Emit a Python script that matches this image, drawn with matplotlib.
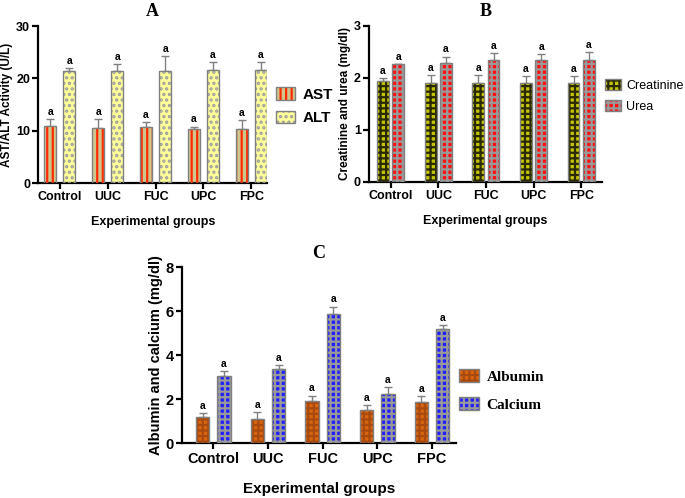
import numpy as np
import matplotlib
matplotlib.use('Agg')
import matplotlib.pyplot as plt
from matplotlib.patches import Patch
from matplotlib.legend_handler import HandlerTuple

plt.rcParams['font.family'] = 'Liberation Sans'
plt.rcParams['hatch.linewidth'] = 1.6

groups = ['Control', 'UUC', 'FUC', 'UPC', 'FPC']

# Panel A
ast = [10.9, 10.5, 10.8, 10.3, 10.4]
ast_err = [1.4, 1.7, 0.9, 0.5, 1.6]
alt = [21.4, 21.5, 21.5, 21.7, 21.6]
alt_err = [0.6, 1.3, 2.8, 1.5, 1.6]

# Panel B
creat = [1.94, 1.90, 1.90, 1.91, 1.91]
creat_err = [0.05, 0.15, 0.15, 0.12, 0.12]
urea = [2.26, 2.29, 2.35, 2.34, 2.35]
urea_err = [0.01, 0.12, 0.13, 0.12, 0.14]

# Panel C
albumin = [1.19, 1.10, 1.93, 1.52, 1.89]
albumin_err = [0.20, 0.33, 0.24, 0.20, 0.25]
calcium = [3.08, 3.37, 5.90, 2.26, 5.18]
calcium_err = [0.20, 0.19, 0.32, 0.31, 0.21]

fig = plt.figure(figsize=(6.85, 4.98), dpi=100)


def hatched_bars(ax, x, vals, err, face, hcol, hatch, width):
    ax.bar(x, vals, width, color=face, edgecolor='none', zorder=2)
    ax.bar(x, vals, width, fill=False, edgecolor=hcol, hatch=hatch, linewidth=0, zorder=3)
    ax.bar(x, vals, width, fill=False, edgecolor='#808080', linewidth=1, zorder=4)
    ax.errorbar(x, vals, yerr=[np.zeros(len(vals)), err], fmt='none', ecolor='#808080',
                elinewidth=1, capsize=3, capthick=1, zorder=1)
    for xi, v, e in zip(x, vals, err):
        ax.annotate('a', (xi, v + e), xytext=(0, 1.5), textcoords='offset points',
                    ha='center', va='bottom', fontsize=7.5, fontweight='bold')


def style_axes(ax, ylim, yticks, ylabel, title, xlim, tick_fs=9, ylab_fs=8.5):
    ax.set_ylim(*ylim)
    ax.set_yticks(yticks)
    ax.set_xlim(*xlim)
    ax.set_xticks(range(5))
    ax.set_xticklabels(groups, fontweight='bold', fontsize=tick_fs)
    for lab in ax.get_yticklabels():
        lab.set_fontweight('bold')
        lab.set_fontsize(tick_fs)
    ax.spines['top'].set_visible(False)
    ax.spines['right'].set_visible(False)
    ax.spines['left'].set_linewidth(1.6)
    ax.spines['bottom'].set_linewidth(1.6)
    ax.tick_params(width=1.6, length=4, pad=2)
    ax.set_ylabel(ylabel, fontweight='bold', fontsize=ylab_fs, labelpad=2)
    ax.set_title(title, fontweight='bold', fontsize=13, family='Liberation Serif', pad=7)


def legend(ax, labels, faces, hcols, hatches, loc, textpad=0.5, **kw):
    handles = []
    for f, hc, h in zip(faces, hcols, hatches):
        handles.append((Patch(facecolor=f, edgecolor='none'),
                        Patch(facecolor='none', edgecolor=hc, hatch=h, linewidth=0),
                        Patch(facecolor='none', edgecolor='#808080', linewidth=1)))
    ax.legend(handles, labels, handler_map={tuple: HandlerTuple(ndivide=1, pad=0)},
              loc='center left', bbox_to_anchor=loc, frameon=False,
              handlelength=1.3, handleheight=0.9, handletextpad=textpad,
              borderaxespad=0, **kw)


x = np.arange(5)

# A
axA = fig.add_axes([0.056, 0.6325, 0.334, 0.315])
hatched_bars(axA, x - 0.2, ast, ast_err, '#cfc68e', '#ff2a00', '|||', 0.25)
hatched_bars(axA, x + 0.2, alt, alt_err, '#ffff9a', '#a0a0a0', '...', 0.25)
style_axes(axA, (0, 30), [0, 10, 20, 30], 'AST/ALT Activity (U/L)', 'A', (-0.45, 4.33))
axA.set_xlabel('Experimental groups', fontweight='bold', fontsize=9, labelpad=9)
legend(axA, ['AST', 'ALT'], ['#cfc68e', '#ffff9a'], ['#ff2a00', '#a0a0a0'], ['|||', '...'],
       (1.01, 0.49), prop={'weight': 'bold', 'size': 11}, labelspacing=0.6)

# B
axB = fig.add_axes([0.539, 0.635, 0.340, 0.313])
hatched_bars(axB, x - 0.16, creat, creat_err, '#c4c400', '#2a2a00', '+++', 0.25)
hatched_bars(axB, x + 0.16, urea, urea_err, '#ff1010', '#999999', '+++', 0.25)
style_axes(axB, (0, 3), [0, 1, 2, 3], 'Creatinine and urea (mg/dl)', 'B', (-0.45, 4.44))
axB.set_xlabel('Experimental groups', fontweight='bold', fontsize=9, labelpad=9)
legend(axB, ['Creatinine', 'Urea'], ['#c4c400', '#ff1010'], ['#2a2a00', '#999999'],
       ['+++', '+++'], (0.99, 0.55), textpad=0.4, prop={'size': 9}, labelspacing=0.7)

# C
axC = fig.add_axes([0.266, 0.110, 0.399, 0.353])
hatched_bars(axC, x - 0.195, albumin, albumin_err, '#d8640e', '#a84a10', '+++', 0.245)
hatched_bars(axC, x + 0.195, calcium, calcium_err, '#2020ff', '#999999', '+++', 0.245)
style_axes(axC, (0, 8), [0, 2, 4, 6, 8], 'Albumin and calcium (mg/dl)', 'C', (-0.57, 4.43),
           tick_fs=10.5, ylab_fs=10.5)
axC.set_xlabel('Experimental groups', fontweight='bold', fontsize=11, labelpad=12)
legend(axC, ['Albumin', 'Calcium'], ['#d8640e', '#2020ff'], ['#a84a10', '#999999'],
       ['+++', '+++'], (0.99, 0.3), prop={'weight': 'bold', 'size': 11, 'family': 'Liberation Serif'},
       labelspacing=0.9)

fig.savefig('out.png', dpi=100)
